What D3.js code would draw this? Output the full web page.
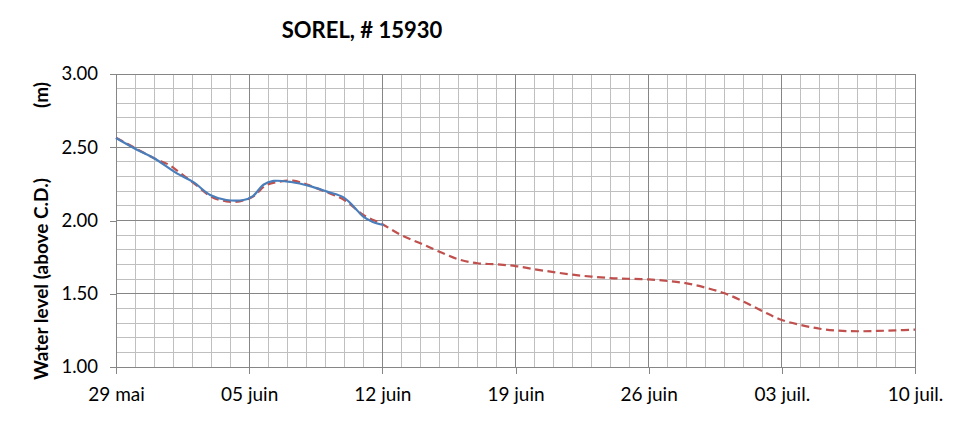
<!DOCTYPE html>
<html>
<head>
<meta charset="utf-8">
<script src="https://cdn.jsdelivr.net/npm/d3@7"></script>
<style>
  html, body { margin: 0; padding: 0; background: #ffffff; }
  svg { display: block; }
</style>
</head>
<body>
<svg id="chart" width="969" height="421"></svg>
<script>
// ---- data (days counted from 29 mai) ----
const title = "SOREL, # 15930";
const yLabel = "Water level (above C.D.)";
const yUnit = "(m)";
const xTickDays = [0, 7, 14, 21, 28, 35, 42];
const xTickLabels = ["29 mai", "05 juin", "12 juin", "19 juin", "26 juin", "03 juil.", "10 juil."];
const yTickValues = [1.0, 1.5, 2.0, 2.5, 3.0];

const predictedDays = [0, 1, 2, 2.8, 3.4, 4.1, 5.0, 5.8, 6.5, 7.2, 7.9, 8.6, 9.3, 10, 11.1, 12, 13, 14,
  15, 16, 17, 18, 19, 20, 21, 22, 23, 24, 25, 26, 27, 28, 29, 30, 31, 32, 33, 34, 35, 36, 37, 38, 39, 40, 41, 42];
const predictedLevels = [2.565, 2.495, 2.425, 2.379, 2.322, 2.254, 2.163, 2.131, 2.131, 2.163, 2.242, 2.265, 2.272, 2.247, 2.192, 2.140, 2.038, 1.974,
  1.900, 1.844, 1.787, 1.735, 1.708, 1.701, 1.689, 1.667, 1.648, 1.630, 1.617, 1.607, 1.602, 1.598, 1.587, 1.571, 1.541, 1.503, 1.446, 1.380, 1.321, 1.287, 1.261, 1.248, 1.244, 1.246, 1.250, 1.255];

const observedDays = [0, 1.1, 2, 3.2, 4.07, 4.95, 5.8, 6.7, 7.2, 7.75, 8.28, 9.2, 10.2, 11.1, 11.96, 12.5, 13, 13.5, 14.07];
const observedLevels = [2.563, 2.483, 2.425, 2.322, 2.262, 2.174, 2.140, 2.140, 2.167, 2.244, 2.270, 2.263, 2.235, 2.197, 2.158, 2.094, 2.026, 1.990, 1.969];

// ---- layout ----
const svg = d3.select("#chart");
const m = { left: 116, right: 915, top: 74, bottom: 367 };
const x = d3.scaleLinear().domain([0, 42]).range([m.left, m.right]);
const y = d3.scaleLinear().domain([1, 3]).range([m.bottom, m.top]);

const FONT = "Lato, 'Open Sans', 'Liberation Sans', sans-serif";

// minor grid
const g = svg.append("g");
g.selectAll("line.vminor").data(d3.range(0, 43).filter(d => d % 7 !== 0)).join("line")
  .attr("x1", d => x(d)).attr("x2", d => x(d)).attr("y1", y(1)).attr("y2", y(3))
  .attr("stroke", "#bfbfbf").attr("stroke-width", 1).attr("shape-rendering", "crispEdges");
g.selectAll("line.hminor").data(d3.range(10, 31).filter(d => d % 5 !== 0).map(d => d / 10)).join("line")
  .attr("x1", x(0)).attr("x2", x(42)).attr("y1", d => y(d)).attr("y2", d => y(d))
  .attr("stroke", "#bfbfbf").attr("stroke-width", 1).attr("shape-rendering", "crispEdges");
// major grid
g.selectAll("line.vmajor").data(xTickDays).join("line")
  .attr("x1", d => x(d)).attr("x2", d => x(d)).attr("y1", y(1)).attr("y2", y(3))
  .attr("stroke", "#868686").attr("stroke-width", 1).attr("shape-rendering", "crispEdges");
g.selectAll("line.hmajor").data(yTickValues).join("line")
  .attr("x1", x(0)).attr("x2", x(42)).attr("y1", d => y(d)).attr("y2", d => y(d))
  .attr("stroke", "#868686").attr("stroke-width", 1).attr("shape-rendering", "crispEdges");

// axes
const yAxis = svg.append("g").attr("transform", `translate(${m.left},0)`)
  .call(d3.axisLeft(y).tickValues(yTickValues).tickFormat(d3.format(".2f")).tickSize(6).tickPadding(12));
const xAxis = svg.append("g").attr("transform", `translate(0,${m.bottom})`)
  .call(d3.axisBottom(x).tickValues(xTickDays).tickFormat((d, i) => xTickLabels[i]).tickSize(7).tickPadding(14));
[yAxis, xAxis].forEach(a => {
  a.select(".domain").remove();
  a.selectAll(".tick line").attr("stroke", "#868686").attr("shape-rendering", "crispEdges");
  a.selectAll("text").attr("fill", "#000").style("font-family", FONT);
});
yAxis.selectAll("text").style("font-size", "18.5px");
xAxis.selectAll("text").style("font-size", "19px");

// lines
const line = d3.line().x(d => x(d[0])).y(d => y(d[1])).curve(d3.curveCatmullRom.alpha(0.5));
svg.append("path").datum(d3.zip(predictedDays, predictedLevels))
  .attr("d", line).attr("fill", "none").attr("stroke", "#c0504d").attr("stroke-width", 2.2)
  .attr("stroke-dasharray", "8,4.5");
svg.append("path").datum(d3.zip(observedDays, observedLevels))
  .attr("d", line).attr("fill", "none").attr("stroke", "#4a7ebb").attr("stroke-width", 2.2);

// title
svg.append("text").attr("x", 362).attr("y", 38).attr("text-anchor", "middle")
  .style("font-family", FONT).style("font-weight", "bold").style("font-size", "22px").text(title);

// y label
svg.append("text").attr("transform", "translate(48,279) rotate(-90)").attr("text-anchor", "middle")
  .style("font-family", FONT).style("font-weight", "bold").style("font-size", "19px").text(yLabel);
svg.append("text").attr("transform", "translate(48,95) rotate(-90)").attr("text-anchor", "middle")
  .style("font-family", FONT).style("font-weight", "bold").style("font-size", "19px").text(yUnit);
</script>
</body>
</html>
